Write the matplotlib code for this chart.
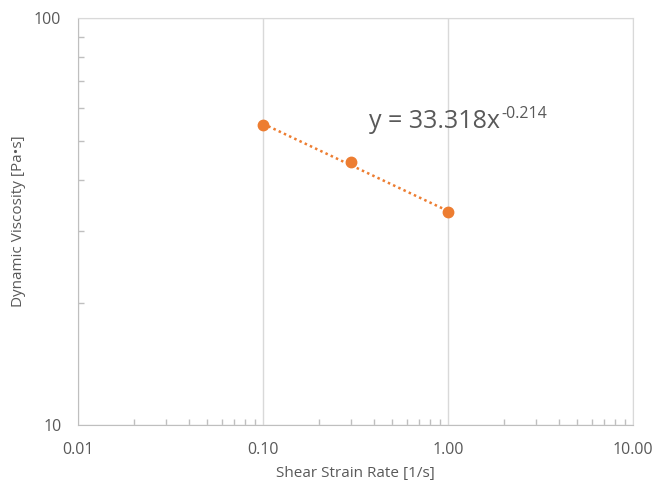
import numpy as np
import matplotlib.pyplot as plt
from matplotlib.ticker import FixedLocator, FixedFormatter, LogLocator, NullFormatter

# data
shear_rate = [0.1, 0.3, 1.0]
viscosity = [54.5, 44.2, 33.3]
x_ticks = [0.01, 0.1, 1, 10]
x_labels = ['0.01', '0.10', '1.00', '10.00']
y_ticks = [10, 100]
y_labels = ['10', '100']

orange = '#ED7D31'
grid_c = '#D9D9D9'
txt_c = '#595959'

plt.rcParams['font.family'] = ['Open Sans', 'DejaVu Sans']

fig = plt.figure(figsize=(6.56, 4.87), dpi=100)
ax = fig.add_axes([0.119, 0.127, 0.846, 0.836])
ax.set_xscale('log')
ax.set_yscale('log')
ax.set_xlim(0.01, 10)
ax.set_ylim(10, 100)

# power trendline fitted in log space
k, lb = np.polyfit(np.log10(shear_rate), np.log10(viscosity), 1)
xf = np.array([min(shear_rate), max(shear_rate)])
ax.plot(xf, 10**lb * xf**k, color=orange, ls=(0, (1, 1.3)), lw=1.8, zorder=2)
ax.plot(shear_rate, viscosity, 'o', color=orange, ms=7.5, zorder=3)

eq = ax.text(0.525, 0.73, 'y = 33.318x', transform=ax.transAxes,
             fontsize=18, color=txt_c)
ax.annotate('-0.214', xy=(1, 1), xycoords=eq, xytext=(1, 2),
            textcoords='offset points', va='top', ha='left',
            fontsize=11.5, color=txt_c)

ax.xaxis.set_major_locator(FixedLocator(x_ticks))
ax.xaxis.set_major_formatter(FixedFormatter(x_labels))
ax.yaxis.set_major_locator(FixedLocator(y_ticks))
ax.yaxis.set_major_formatter(FixedFormatter(y_labels))
ax.xaxis.set_minor_locator(LogLocator(base=10, subs=np.arange(2, 10)))
ax.yaxis.set_minor_locator(LogLocator(base=10, subs=np.arange(2, 10)))
ax.xaxis.set_minor_formatter(NullFormatter())
ax.yaxis.set_minor_formatter(NullFormatter())

ax.tick_params(which='major', length=0, labelsize=11.5, labelcolor=txt_c, pad=12)
ax.tick_params(which='minor', direction='in', length=4, color='#BFBFBF', width=1)
ax.grid(True, which='major', color=grid_c, lw=1)
for s in ax.spines.values():
    s.set_color(grid_c)
for s in ['left', 'bottom']:
    ax.spines[s].set_color('#BFBFBF')

ax.set_xlabel('Shear Strain Rate [1/s]', fontsize=11, color=txt_c, labelpad=6)
ax.set_ylabel('Dynamic Viscosity [Pa•s]', fontsize=11, color=txt_c, labelpad=6)

fig.savefig('out.png', dpi=100)
